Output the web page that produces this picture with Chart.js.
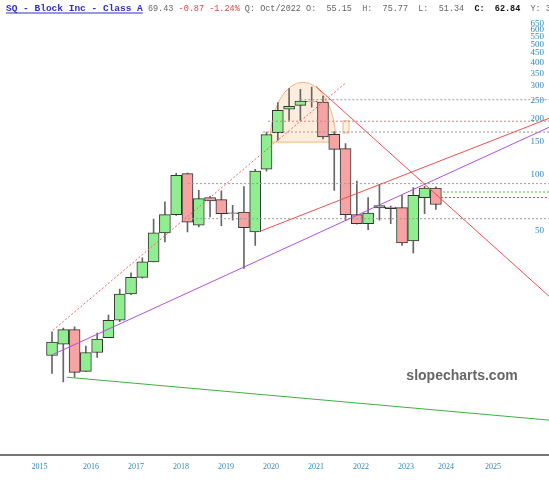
<!DOCTYPE html>
<html>
<head>
<meta charset="utf-8">
<script src="https://cdn.jsdelivr.net/npm/chart.js@4.4.0/dist/chart.umd.min.js"></script>
<style>
  html, body { margin: 0; padding: 0; background: #fff; }
  canvas { display: block; }
</style>
</head>
<body>
<canvas id="sqChart" width="549" height="480"></canvas>
<script>
// quarterly candles, 2015 Q4 .. 2024 Q2
const quarters = ['2015Q4',
  '2016Q1','2016Q2','2016Q3','2016Q4','2017Q1','2017Q2','2017Q3','2017Q4',
  '2018Q1','2018Q2','2018Q3','2018Q4','2019Q1','2019Q2','2019Q3','2019Q4',
  '2020Q1','2020Q2','2020Q3','2020Q4','2021Q1','2021Q2','2021Q3','2021Q4',
  '2022Q1','2022Q2','2022Q3','2022Q4','2023Q1','2023Q2','2023Q3','2023Q4',
  '2024Q1','2024Q2'];
const open  = [10.6, 12.2, 14.6, 8.7, 11.0, 13.2, 16.4, 22.7, 27.9, 33.8, 48.4, 60.7,
               100.9, 53.2, 74.9, 73.1, 62.0, 62.7, 49.0, 106.4, 167.6, 224.4, 234.9, 247.0,
               244.7, 164.1, 137.5, 60.7, 54.3, 65.9, 66.7, 66.2, 43.8, 74.9, 84.4];
const high  = [14.2, 14.9, 15.1, 11.9, 14.0, 17.5, 24.1, 29.5, 35.5, 57.5, 71.0, 101.3,
               101.5, 82.0, 76.2, 81.5, 68.0, 86.0, 106.4, 168.8, 242.9, 288.8, 286.4, 294.6,
               263.6, 170.0, 146.2, 92.0, 74.9, 88.4, 67.5, 77.1, 84.8, 86.2, 85.5];
const low   = [8.5, 7.65, 8.1, 8.7, 10.35, 13.2, 16.1, 22.5, 27.6, 33.8, 43.3, 60.0,
               49.0, 52.1, 58.9, 53.0, 56.6, 31.2, 41.5, 104.0, 152.3, 195.1, 195.1, 230.0,
               155.0, 82.0, 56.6, 54.0, 50.4, 56.6, 54.3, 41.5, 37.8, 61.5, 64.8];
const close = [12.5, 14.6, 8.6, 11.0, 13.0, 16.4, 22.7, 27.9, 33.8, 48.4, 60.7, 98.8,
               55.2, 74.0, 71.9, 61.5, 61.5, 51.7, 104.2, 163.5, 220.8, 232.0, 247.8, 245.5,
               158.7, 136.3, 60.7, 54.3, 61.9, 67.9, 65.4, 42.7, 77.1, 84.4, 68.8];

const yearLabels = ['2015','2016','2017','2018','2019','2020','2021','2022','2023','2024','2025'];
const yearTicks  = [-1.1, 3.45, 7.44, 11.43, 15.41, 19.40, 23.38, 27.37, 31.36, 34.90, 39.06];
const priceTicks = [50, 100, 150, 200, 250, 300, 350, 400, 450, 500, 550, 600, 650];

// trend lines: [[quarter, price], [quarter, price]]
const redDotted  = [[0.09, 14.5], [25.95, 308]];
const purpleLine = [[0.06, 10.71], [44.02, 178.9]];
const redUp      = [[18.33, 49.1], [44.02, 200]];
const redDown    = [[23.38, 297], [44.02, 22.1]];
const greenLine  = [[1.30, 8.10], [44.02, 4.76]];

// horizontal levels
const levelPrice = [252, 193, 168.8, 89.1, 80.3, 75.0, 57.7];
const levelFrom  = [22.0, 19.13, 18.69, 12.05, 34.63, 34.45, 12.05];
const levelColor = ['#9a9a9a', '#d98080', '#9a9a9a', '#9a9a9a', '#55c055', '#e04848', '#9a9a9a'];

// rounded top (dome) and small box
const dome = { from: 19.31, to: 25.15, base: 149, top: 313 };
const box  = { at: 26.0, lo: 168, hi: 195 };

const X_MIN = -4.606, X_MAX = 44.02;

const upFill = '#90ee90', downFill = '#f5a3a3';

const bodies = quarters.map((q, i) => ({ x: i, y: [open[i], close[i]] }));
const wicks = quarters.map((q, i) => ({ x: i, y: [low[i], high[i]] }));

function seg(pts, color, dash) {
  return {
    type: 'line',
    data: pts.map(p => ({ x: p[0], y: p[1] })),
    borderColor: color,
    borderWidth: 1,
    borderDash: dash || [],
    pointRadius: 0,
    fill: false,
    order: 0
  };
}

const lineSets = [
  seg(redDotted, '#f06060', [2, 2]),
  seg(purpleLine, '#b050e0'),
  seg(redUp, '#f05050'),
  seg(redDown, '#f05050'),
  seg(greenLine, '#40b040')
];
levelPrice.forEach((v, k) => {
  lineSets.push(seg([[levelFrom[k], v], [X_MAX + 1, v]], levelColor[k], [2, 2]));
});

const decorPlugin = {
  id: 'decor',
  beforeDatasetsDraw(chart) {
    const { ctx, scales: { x, y } } = chart;
    const l = x.getPixelForValue(dome.from), r = x.getPixelForValue(dome.to);
    const b = y.getPixelForValue(dome.base), t = y.getPixelForValue(dome.top);
    ctx.save();
    ctx.beginPath();
    ctx.ellipse((l + r) / 2, b, (r - l) / 2, b - t, 0, Math.PI, 2 * Math.PI);
    ctx.closePath();
    ctx.fillStyle = 'rgba(253, 210, 170, 0.4)';
    ctx.fill();
    ctx.strokeStyle = '#f2b57a';
    ctx.lineWidth = 1;
    ctx.stroke();
    const bx = x.getPixelForValue(box.at);
    const y1 = y.getPixelForValue(box.hi), y2 = y.getPixelForValue(box.lo);
    ctx.fillStyle = 'rgba(253, 210, 170, 0.35)';
    ctx.fillRect(bx - 3, y1, 6, y2 - y1);
    ctx.strokeRect(bx - 3 + 0.5, y1 + 0.5, 6, y2 - y1);
    ctx.restore();
  },
  afterDraw(chart) {
    const ctx = chart.ctx;
    ctx.save();
    // header
    const parts = [
      ['SQ - Block Inc - Class A', '#2f2fc8', true, true],
      [' 69.43 ', '#666666'],
      ['-0.87 -1.24%', '#e04444'],
      [' Q: Oct/2022 O:  55.15  H:  75.77  L:  51.34  ', '#666666'],
      ['C:  62.84', '#111111', true],
      ['  Y: 323.9', '#666666']
    ];
    let px = 6;
    ctx.textBaseline = 'alphabetic';
    parts.forEach((p, k) => {
      const size = k === 0 ? 9.5 : 8.5;
      ctx.font = (p[2] ? 'bold ' : '') + size + 'px "Liberation Mono", monospace';
      ctx.fillStyle = p[1];
      ctx.fillText(p[0], px, 11);
      const w = ctx.measureText(p[0]).width;
      if (p[3]) {
        ctx.fillRect(px, 12.5, w, 1);
      }
      px += w;
    });
    // watermark
    ctx.font = 'bold 14px "Liberation Sans", Arial, sans-serif';
    ctx.fillStyle = '#666666';
    ctx.textAlign = 'center';
    ctx.textBaseline = 'middle';
    ctx.fillText('slopecharts.com', 462, 376);
    ctx.restore();
  }
};

new Chart(document.getElementById('sqChart'), {
  type: 'bar',
  data: {
    datasets: [
      ...lineSets,
      {
        data: bodies,
        backgroundColor: bodies.map((d, i) => close[i] >= open[i] ? upFill : downFill),
        borderColor: '#333333',
        borderWidth: 1,
        borderSkipped: false,
        barThickness: 11,
        grouped: false,
        order: 1
      },
      {
        data: wicks,
        backgroundColor: '#666666',
        borderWidth: 0,
        barThickness: 1,
        grouped: false,
        order: 2
      }
    ]
  },
  options: {
    responsive: false,
    animation: false,
    devicePixelRatio: 1,
    layout: { padding: 0 },
    plugins: {
      legend: { display: false },
      tooltip: { enabled: false }
    },
    scales: {
      x: {
        type: 'linear',
        min: X_MIN,
        max: X_MAX,
        bounds: 'data',
        offset: false,
        grid: { display: false, drawTicks: false },
        border: { display: true, color: '#777777', width: 2 },
        afterBuildTicks: s => { s.ticks = yearTicks.map(v => ({ value: v })); },
        afterFit: s => { s.height = 25; s.paddingLeft = 0; s.paddingRight = 0; },
        ticks: {
          autoSkip: false,
          maxRotation: 0,
          padding: 7,
          color: '#2f86b8',
          font: { family: '"Liberation Serif", serif', size: 8 },
          callback: v => yearLabels[yearTicks.indexOf(v)]
        }
      },
      y: {
        type: 'logarithmic',
        position: 'right',
        min: 3.09,
        max: 862,
        bounds: 'data',
        grid: { display: false, drawTicks: false },
        border: { display: false },
        afterBuildTicks: s => { s.ticks = priceTicks.map(v => ({ value: v })); },
        ticks: {
          mirror: true,
          autoSkip: false,
          padding: -5,
          color: '#2f86b8',
          font: { family: '"Liberation Serif", serif', size: 9 },
          callback: v => String(v)
        }
      }
    }
  },
  plugins: [decorPlugin]
});
</script>
</body>
</html>
